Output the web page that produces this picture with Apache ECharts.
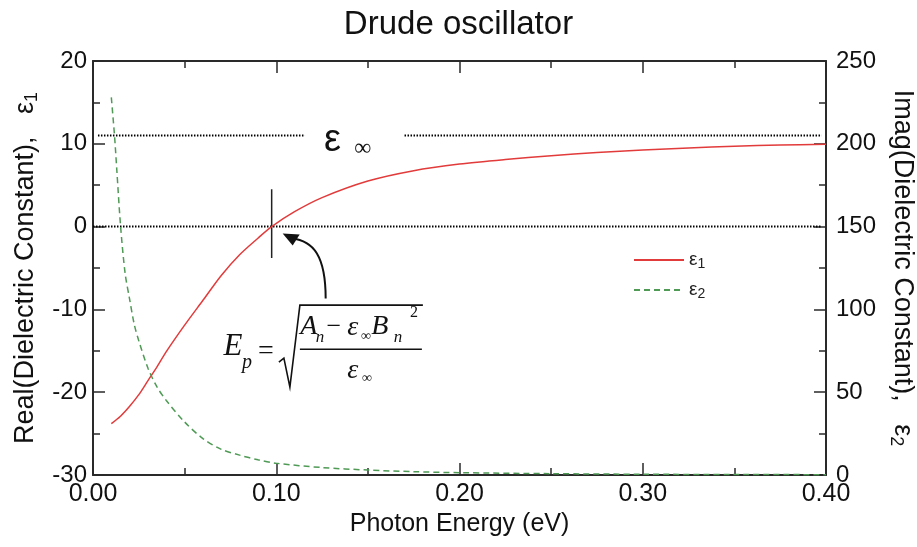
<!DOCTYPE html>
<html><head><meta charset="utf-8">
<script src="https://cdn.jsdelivr.net/npm/echarts@6/dist/echarts.min.js"></script>
<style>html,body{margin:0;padding:0;background:#fff}#c{width:917px;height:547px}</style>
</head><body><div id="c"></div>
<script>
// ---- data ----
const xTickLabels = ['0.00', '0.10', '0.20', '0.30', '0.40'];
const leftTicks = [-30, -20, -10, 0, 10, 20];
const rightTicks = [0, 50, 100, 150, 200, 250];

const eps1X = [0.010, 0.015, 0.020, 0.025, 0.030, 0.035, 0.040, 0.050, 0.060, 0.070, 0.080, 0.090, 0.0975, 0.110, 0.125, 0.150, 0.175, 0.200, 0.225, 0.250, 0.275, 0.300, 0.325, 0.350, 0.375, 0.400];
const eps1Y = [-23.8, -22.9, -21.7, -20.3, -18.6, -16.9, -15.1, -11.9, -8.9, -5.9, -3.4, -1.4, 0, 1.8, 3.5, 5.5, 6.75, 7.55, 8.1, 8.55, 8.95, 9.25, 9.5, 9.7, 9.85, 9.95];

const eps2X = [0.010, 0.0118, 0.013, 0.015, 0.0175, 0.020, 0.0225, 0.025, 0.030, 0.035, 0.040, 0.050, 0.060, 0.070, 0.080, 0.090, 0.100, 0.125, 0.150, 0.175, 0.200, 0.250, 0.300, 0.350, 0.400];
const eps2Y = [228, 204, 184, 151, 122, 106, 91, 81, 64.5, 53, 45, 32, 22, 15.5, 12, 9.2, 7.1, 4.5, 3, 2, 1.4, 0.8, 0.45, 0.3, 0.2];

const epsInf = 11;
const epsInfSegA = [0.0027, 0.1157];
const epsInfSegB = [0.170, 0.3976];
const zeroSeg = [0.0, 0.3976];
const markerX = 0.0975;
const markerY = [4.5, -3.8];

const RED = '#e23b3b';
const GREEN = '#4f9a55';
const AXIS = '#2a2a2a';
const SANS = 'Liberation Sans, Arial, sans-serif';
const SERIF = 'Liberation Serif, Times New Roman, serif';

const zip = (xs, ys) => xs.map((x, i) => [x, ys[i]]);

const chart = echarts.init(document.getElementById('c'), null, {renderer: 'canvas'});

const tickStyle = {show: true, inside: true, length: 12, lineStyle: {color: AXIS, width: 1.5}};
const minorStyle = {show: true, splitNumber: 2, length: 7, lineStyle: {color: AXIS, width: 1.5}};
const lineAx = {show: true, onZero: false, lineStyle: {color: AXIS, width: 2}};
const nameRich = {
  t: {fontSize: 27, fontFamily: SANS, lineHeight: 32, verticalAlign: 'middle'},
  s: {fontSize: 18, fontFamily: SANS, lineHeight: 32, verticalAlign: 'bottom', padding: [10, 0, 0, 0]}
};

const option = {
  backgroundColor: '#fff',
  animation: false,
  title: {
    text: 'Drude oscillator', left: 'center', top: 3,
    textStyle: {fontFamily: SANS, fontSize: 33, fontWeight: 'normal', color: '#111'}
  },
  grid: {left: 93, right: 91, top: 61, bottom: 72, containLabel: false, outerBoundsMode: 'none'},
  legend: {
    data: ['e1', 'e2'], orient: 'vertical', left: 628, top: 244,
    itemWidth: 50, itemHeight: 14, itemGap: 8, selectedMode: false,
    itemStyle: {opacity: 0},
    formatter: n => n === 'e1' ? '{e|ε}{s|1}' : '{e|ε}{s|2}',
    textStyle: {
      fontFamily: SANS, color: '#222',
      rich: {e: {fontSize: 19, fontFamily: SANS, lineHeight: 22, verticalAlign: 'middle'},
             s: {fontSize: 14, fontFamily: SANS, lineHeight: 22, verticalAlign: 'bottom', padding: [8, 0, 0, 0]}}
    }
  },
  xAxis: [
    {
      type: 'value', min: 0, max: 0.4, interval: 0.1, position: 'bottom',
      name: 'Photon Energy (eV)', nameLocation: 'middle', nameGap: 37,
      nameTextStyle: {fontFamily: SANS, fontSize: 25, color: '#111'},
      axisLine: lineAx, axisTick: tickStyle, minorTick: minorStyle,
      splitLine: {show: false}, minorSplitLine: {show: false},
      axisLabel: {fontFamily: SANS, fontSize: 25, color: '#111', margin: 7,
        formatter: v => xTickLabels[Math.round(v * 10)]}
    },
    {
      type: 'value', min: 0, max: 0.4, interval: 0.1, position: 'top',
      axisLine: lineAx, axisTick: tickStyle, minorTick: minorStyle,
      splitLine: {show: false}, axisLabel: {show: false}
    }
  ],
  yAxis: [
    {
      type: 'value', min: -30, max: 20, interval: 10, position: 'left',
      name: '{t|Real(Dielectric Constant),   ε}{s|1}', nameLocation: 'middle', nameGap: 46,
      nameTextStyle: {fontFamily: SANS, color: '#111', rich: nameRich},
      axisLine: lineAx, axisTick: tickStyle, minorTick: minorStyle,
      splitLine: {show: false},
      axisLabel: {fontFamily: SANS, fontSize: 24, color: '#111', margin: 6,
        formatter: v => String(leftTicks[leftTicks.indexOf(v)])}
    },
    {
      type: 'value', min: 0, max: 250, interval: 50, position: 'right',
      name: '{t|Imag(Dielectric Constant),   ε}{s|2}', nameLocation: 'middle', nameGap: 53, nameRotate: -90,
      nameTextStyle: {fontFamily: SANS, color: '#111', rich: nameRich},
      axisLine: lineAx, axisTick: tickStyle, minorTick: minorStyle,
      splitLine: {show: false},
      axisLabel: {fontFamily: SANS, fontSize: 24, color: '#111', margin: 10,
        formatter: v => String(rightTicks[rightTicks.indexOf(v)])}
    }
  ],
  series: [
    {name: 'zero', type: 'line', data: zeroSeg.map(x => [x, 0]), symbol: 'none', silent: true,
      lineStyle: {color: '#000', width: 2, type: [1.5, 1.5]}, z: 1},
    {name: 'infA', type: 'line', data: epsInfSegA.map(x => [x, epsInf]), symbol: 'none', silent: true,
      lineStyle: {color: '#000', width: 2, type: [1.5, 1.5]}, z: 1},
    {name: 'infB', type: 'line', data: epsInfSegB.map(x => [x, epsInf]), symbol: 'none', silent: true,
      lineStyle: {color: '#000', width: 2, type: [1.5, 1.5]}, z: 1},
    {name: 'marker', type: 'line', data: markerY.map(y => [markerX, y]), symbol: 'none', silent: true,
      lineStyle: {color: '#222', width: 1.5}, z: 3},
    {name: 'e1', type: 'line', data: zip(eps1X, eps1Y), symbol: 'none', smooth: 0.3,
      color: RED, lineStyle: {color: RED, width: 1.5}, z: 4},
    {name: 'e2', type: 'line', yAxisIndex: 1, data: zip(eps2X, eps2Y), symbol: 'none', smooth: 0.3,
      color: GREEN, lineStyle: {color: GREEN, width: 1.5, type: [6, 4]}, z: 4}
  ]
};
chart.setOption(option);

// ---- annotations anchored to data coordinates ----
const px = (x, y) => chart.convertToPixel({xAxisIndex: 0, yAxisIndex: 0}, [x, y]);
const T = (text, x, y, size, opts) => Object.assign({
  type: 'text', x, y,
  style: Object.assign({text, fontSize: size, fontFamily: SERIF, fontStyle: 'italic', fill: '#111',
    align: 'center', verticalAlign: 'middle'}, opts || {})
});

const epsLblPos = px(0.1307, 10.4);
const infLblPos = px(0.1473, 9.4);
const F = px(0.1129, -14.8);   // formula anchor (left end of fraction bar)
const A = px(markerX, 0);      // arrow anchor (crossing point)

chart.setOption({
  graphic: [
    T('ε', epsLblPos[0], epsLblPos[1], 38, {fontFamily: SANS, fontStyle: 'normal'}),
    T('∞', infLblPos[0], infLblPos[1], 24, {fontFamily: SERIF, fontStyle: 'normal'}),
    {
      type: 'group', x: F[0], y: F[1],
      children: [
        T('E', -67, -2, 31),
        T('p', -53, 14, 20),
        T('=', -34, 2, 28, {fontStyle: 'normal'}),
        {type: 'polyline', shape: {points: [[-21, 13], [-16, 9], [-10, 38], [0, -44], [123, -44]]},
          style: {stroke: '#111', lineWidth: 1.6, fill: null}},
        {type: 'line', shape: {x1: 0, y1: 0, x2: 122, y2: 0}, style: {stroke: '#111', lineWidth: 1.5}},
        T('A', 9, -23, 28),
        T('n', 20, -12, 17),
        T('−', 34, -22, 26, {fontStyle: 'normal'}),
        T('ε', 53, -22, 28),
        T('∞', 66, -13, 14, {fontStyle: 'normal'}),
        T('B', 80, -23, 28),
        T('n', 98, -12, 17),
        T('2', 114, -36, 16, {fontStyle: 'normal'}),
        T('ε', 53, 21, 28),
        T('∞', 67, 29, 14, {fontStyle: 'normal'})
      ]
    },
    {
      type: 'group', x: A[0], y: A[1],
      children: [
        {type: 'bezierCurve', shape: {x1: 54, y1: 72, cpx1: 54, cpy1: 30, cpx2: 42, cpy2: 14, x2: 20, y2: 12},
          style: {stroke: '#111', lineWidth: 2, fill: null}},
        {type: 'polygon', shape: {points: [[11, 7], [28, 8], [21, 19]]}, style: {fill: '#111'}}
      ]
    }
  ]
});
</script>
</body></html>
